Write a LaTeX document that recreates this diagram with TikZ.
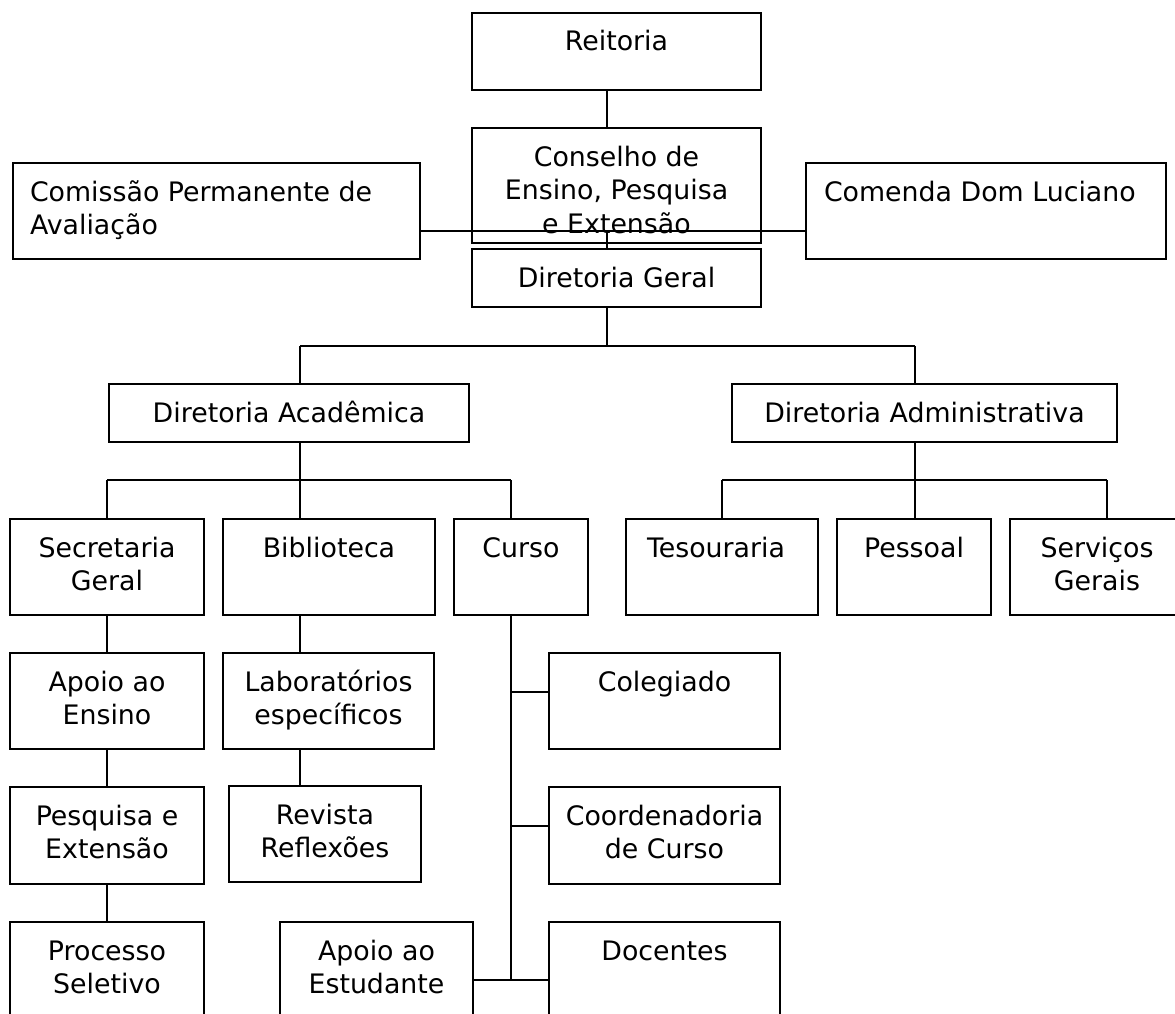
\documentclass[tikz,border=0pt]{standalone}
\usepackage{fontspec}
\setmainfont{DejaVu Sans}
\usetikzlibrary{fit}
\newcommand\orgbox[5]{\node[box, fit={(#2,#3) (#4,#5)}] (#1) {};}
\begin{document}
\begin{tikzpicture}[x=1pt,y=-1pt,
  box/.style={draw=black, line width=1.8pt, inner sep=0pt, outer sep=0pt},
  txt/.style={inner sep=0pt, outer sep=0pt, align=center, anchor=north, font=\fontsize{26.8}{33.5}\selectfont},
  txl/.style={txt, align=left, anchor=north west},
  vl/.style={line width=1.1pt},
  hl/.style={line width=1.7pt},
  hh/.style={line width=2.2pt}]
\useasboundingbox (0,0) rectangle (1175,1014);
% boxes
\orgbox{reit}{472}{13}{761}{90}
\orgbox{cons}{472}{128}{761}{243}
\orgbox{comis}{13}{163}{420}{259}
\orgbox{comen}{806}{163}{1166}{259}
\orgbox{dg}{472}{249}{761}{307}
\orgbox{dac}{109}{384}{469}{442}
\orgbox{dad}{732}{384}{1117}{442}
\orgbox{sec}{10}{519}{204}{615}
\orgbox{bib}{223}{519}{435}{615}
\orgbox{cur}{454}{519}{588}{615}
\orgbox{tes}{626}{519}{818}{615}
\orgbox{pes}{837}{519}{991}{615}
\orgbox{ser}{1010}{519}{1184}{615}
\orgbox{apen}{10}{653}{204}{749}
\orgbox{lab}{223}{653}{434}{749}
\orgbox{col}{549}{653}{780}{749}
\orgbox{pex}{10}{787}{204}{884}
\orgbox{rev}{229}{786}{421}{882}
\orgbox{coo}{549}{787}{780}{884}
\orgbox{pro}{10}{922}{204}{1040}
\orgbox{ape}{280}{922}{473}{1040}
\orgbox{doc}{549}{922}{780}{1040}
% texts
\node[txt] (reitt) at (616.5,25) {\rule{0pt}{26pt}Reitoria};
\node[txt] (const) at (616.5,140) {\rule{0pt}{26pt}Conselho de\\Ensino, Pesquisa\\e Extensão};
\node[txl] (comist) at (30,175) {\rule{0pt}{26pt}Comissão Permanente de\\Avaliação};
\node[txl] (coment) at (824,175) {\rule{0pt}{26pt}Comenda Dom Luciano};
\node[txt] (dgt) at (616.5,261) {\rule{0pt}{26pt}Diretoria Geral};
\node[txt] (dact) at (289,396) {\rule{0pt}{26pt}Diretoria Acadêmica};
\node[txt] (dadt) at (924.5,396) {\rule{0pt}{26pt}Diretoria Administrativa};
\node[txt] (sect) at (107,531) {\rule{0pt}{26pt}Secretaria\\Geral};
\node[txt] (bibt) at (329,531) {\rule{0pt}{26pt}Biblioteca};
\node[txt] (curt) at (521,531) {\rule{0pt}{26pt}Curso};
\node[txt] (test) at (716,531) {\rule{0pt}{26pt}Tesouraria};
\node[txt] (pest) at (914,531) {\rule{0pt}{26pt}Pessoal};
\node[txt] (sert) at (1097,531) {\rule{0pt}{26pt}Serviços\\Gerais};
\node[txt] (apent) at (107,665) {\rule{0pt}{26pt}Apoio ao\\Ensino};
\node[txt] (labt) at (328.5,665) {\rule{0pt}{26pt}Laboratórios\\específicos};
\node[txt] (colt) at (664.5,665) {\rule{0pt}{26pt}Colegiado};
\node[txt] (pext) at (107,799) {\rule{0pt}{26pt}Pesquisa e\\Extensão};
\node[txt] (revt) at (325,798) {\rule{0pt}{26pt}Revista\\Reflexões};
\node[txt] (coot) at (664.5,799) {\rule{0pt}{26pt}Coordenadoria\\de Curso};
\node[txt] (prot) at (107,934) {\rule{0pt}{26pt}Processo\\Seletivo};
\node[txt] (apet) at (376.5,934) {\rule{0pt}{26pt}Apoio ao\\Estudante};
\node[txt] (doct) at (664.5,934) {\rule{0pt}{26pt}Docentes};
% connectors
\coordinate (sp) at (607,0);
\coordinate (cr) at (607,231);
\coordinate (b1) at (607,346);
\coordinate (b1l) at (300,346);
\coordinate (b1r) at (915,346);
\coordinate (b2) at (300,480);
\coordinate (b2l) at (107,480);
\coordinate (b2r) at (511,480);
\coordinate (b3) at (915,480);
\coordinate (b3l) at (722,480);
\coordinate (b3r) at (1107,480);
\coordinate (s1) at (511,692);
\coordinate (s2) at (511,826);
\coordinate (cbot) at (511,980);
\draw[vl] (reit.south -| sp) -- (cons.north -| sp);
\draw[hh] (comis.east |- cr) -- (comen.west |- cr);
\draw[vl] (cr) -- (dg.north -| sp);
\draw[vl] (dg.south -| sp) -- (b1);
\draw[hl] (b1l) -- (b1r);
\draw[vl] (b1l) -- (dac.north -| b1l);
\draw[vl] (b1r) -- (dad.north -| b1r);
\draw[vl] (dac.south -| b2) -- (b2);
\draw[hl] (b2l) -- (b2r);
\draw[vl] (b2l) -- (sec.north -| b2l);
\draw[vl] (b2) -- (bib.north -| b2);
\draw[vl] (b2r) -- (cur.north -| b2r);
\draw[vl] (dad.south -| b3) -- (b3);
\draw[hl] (b3l) -- (b3r);
\draw[vl] (b3l) -- (tes.north -| b3l);
\draw[vl] (b3) -- (pes.north -| b3);
\draw[vl] (b3r) -- (ser.north -| b3r);
\draw[vl] (sec.south -| b2l) -- (apen.north -| b2l);
\draw[vl] (apen.south -| b2l) -- (pex.north -| b2l);
\draw[vl] (pex.south -| b2l) -- (pro.north -| b2l);
\draw[vl] (bib.south -| b2) -- (lab.north -| b2);
\draw[vl] (lab.south -| b2) -- (rev.north -| b2);
\draw[vl] (cur.south -| b2r) -- (cbot);
\draw[hl] (s1) -- (col.west |- s1);
\draw[hl] (s2) -- (coo.west |- s2);
\draw[hh] (ape.east |- cbot) -- (doc.west |- cbot);
\end{tikzpicture}
\end{document}
